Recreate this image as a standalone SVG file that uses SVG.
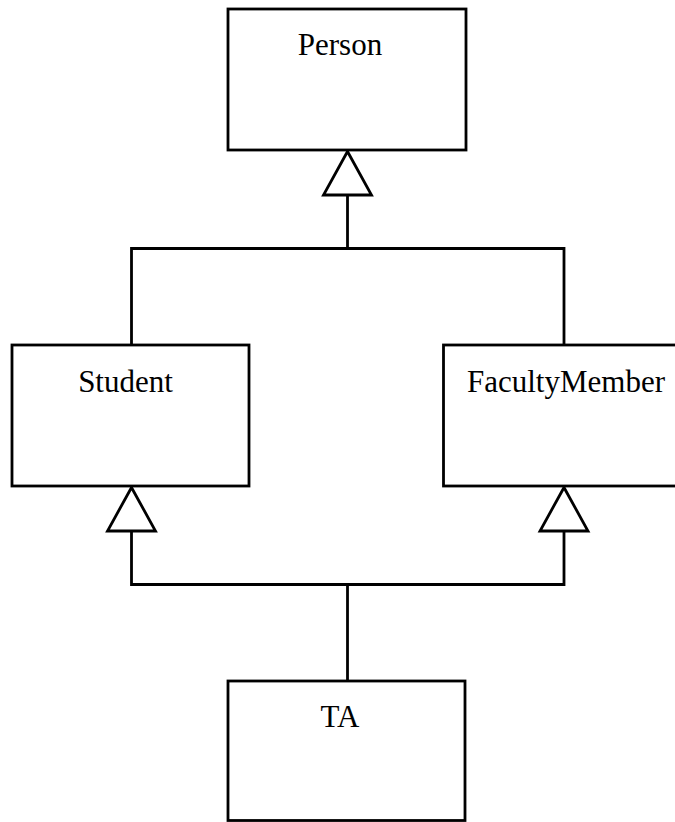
<svg xmlns="http://www.w3.org/2000/svg" width="675" height="822" viewBox="0 0 675 822">
  <style>
    .box { fill: #ffffff; stroke: #000000; stroke-width: 2.8; }
    .label { font-family: "Liberation Serif", "Times New Roman", serif; font-size: 31px; fill: #000000; text-anchor: middle; }
    .edge { fill: none; stroke: #000000; stroke-width: 2.8; }
    .head { fill: #ffffff; stroke: #000000; stroke-width: 2.8; stroke-linejoin: miter; }
  </style>
  <rect width="675" height="822" fill="#ffffff"/>

  <g id="connectors">
    <!-- Student / FacultyMember generalize to Person -->
    <polyline class="edge" points="131.5,345 131.5,248.5 564,248.5 564,345"/>
    <line class="edge" x1="347.5" y1="195" x2="347.5" y2="248.5"/>
    <polygon class="head" points="347.5,151.5 323.5,195 371.5,195"/>
    <!-- TA generalizes to Student and FacultyMember -->
    <polyline class="edge" points="131.5,531 131.5,584.5 564,584.5 564,531"/>
    <line class="edge" x1="347.5" y1="584.5" x2="347.5" y2="681"/>
    <polygon class="head" points="131.5,487.5 107.5,531 155.5,531"/>
    <polygon class="head" points="564,487.5 540,531 588,531"/>
  </g>

  <g id="person">
    <rect class="box" x="228" y="9" width="238" height="141"/>
    <text class="label" x="340" y="55">Person</text>
  </g>

  <g id="student">
    <rect class="box" x="12" y="345" width="237" height="141"/>
    <text class="label" x="125.5" y="392">Student</text>
  </g>

  <g id="faculty-member">
    <rect class="box" x="443.5" y="345" width="241" height="141"/>
    <text class="label" x="566" y="392">FacultyMember</text>
  </g>

  <g id="ta">
    <rect class="box" x="228" y="681" width="237" height="139.5"/>
    <text class="label" x="340" y="727">TA</text>
  </g>
</svg>
